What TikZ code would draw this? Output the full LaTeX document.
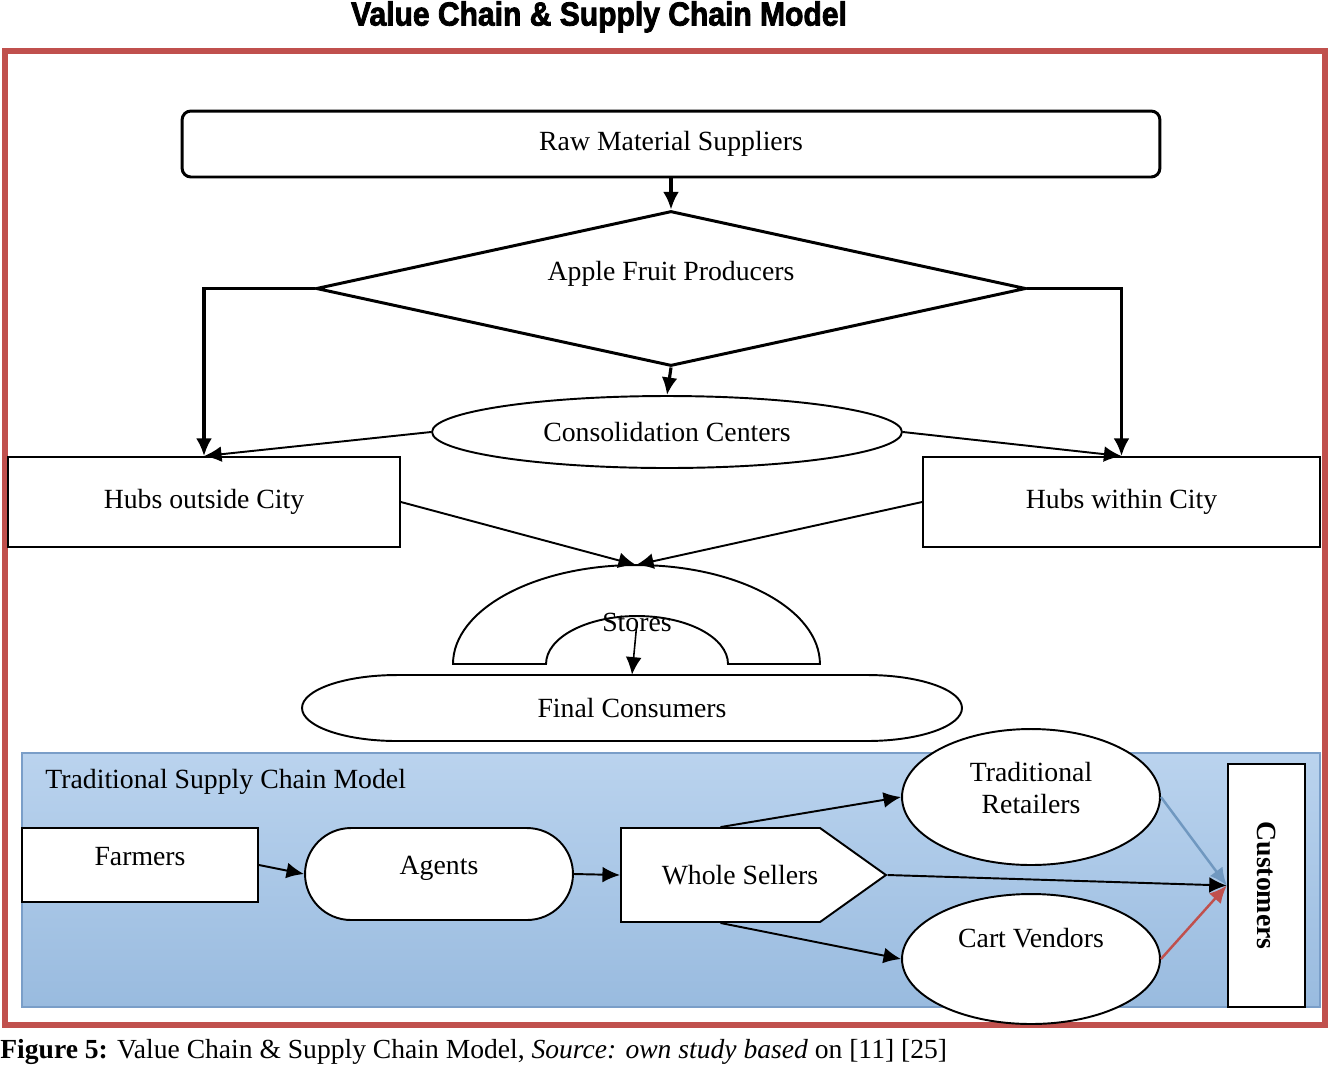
\documentclass[tikz,border=0pt]{standalone}
\usepackage{fontspec}
\setmainfont{Liberation Serif}
\newfontfamily\titlefont{Liberation Sans}[BoldFeatures={FakeBold=2.5}]
\usetikzlibrary{shapes.geometric,shapes.misc,shapes.symbols,arrows.meta}
\tikzset{>={Latex[length=10pt,width=9pt]}}
\definecolor{framered}{RGB}{192,80,77}
\definecolor{tscmtop}{RGB}{186,211,238}
\definecolor{tscmbottom}{RGB}{153,187,223}
\definecolor{tscmline}{RGB}{122,158,200}
\definecolor{linkblue}{RGB}{112,152,192}
\tikzset{
  box/.style={draw,fill=white,line width=1.1pt,inner sep=0pt},
  oval/.style={box,ellipse},
  link/.style={->,line width=1.1pt},
  biglink/.style={->,line width=1.8pt},
}

\begin{document}
\begin{tikzpicture}[x=0.02cm,y=-0.02cm,font=\fontsize{15.8}{18}\selectfont]
  \useasboundingbox (0,0) rectangle (1328,1066);

  % title and frame
  \node[xscale=0.9,anchor=north,inner sep=0pt] (title) at (599,1)
    {\titlefont\bfseries\fontsize{19}{21}\selectfont Value Chain \& Supply Chain Model};
  \draw[framered,line width=3.4pt]
    (5,51) rectangle (1325,1025);

  % value chain
  \node[box,rounded corners=5pt,line width=1.7pt,minimum width=19.56cm,minimum height=1.32cm]
    (raw) at (671,144) {Raw Material Suppliers};
  \node[box,diamond,line width=1.7pt,minimum width=14.2cm,minimum height=3.1cm,
    label={[yshift=0.3cm]center:Apple Fruit Producers}]
    (prod) at (671,288.5) {};
  \node[oval,minimum width=9.4cm,minimum height=1.44cm]
    (cons) at (667,432) {Consolidation Centers};
  \node[box,minimum width=7.84cm,minimum height=1.8cm]
    (hubout) at (204,502) {Hubs outside City};
  \node[box,minimum width=7.94cm,minimum height=1.8cm]
    (hubin) at (1121.5,502) {Hubs within City};

  % stores (arch)
  \coordinate (storetop) at (636,565);
  \draw[line width=1.1pt]
    (453,664) arc[start angle=180,end angle=0,x radius=3.67cm,y radius=1.98cm]
    -- (728,664) arc[start angle=0,end angle=180,x radius=1.82cm,y radius=0.96cm]
    -- cycle;
  \node (stores) at (637,622) {Stores};

  % final consumers
  \draw[line width=1.1pt]
    (397,675) -- (867,675) arc[start angle=90,end angle=-90,x radius=1.9cm,y radius=0.66cm]
    -- (397,741) arc[start angle=270,end angle=90,x radius=1.9cm,y radius=0.66cm]
    -- cycle;
  \node[minimum width=13.2cm,minimum height=1.32cm,inner sep=0pt]
    (final) at (632,708) {Final Consumers};

  % arrows
  \draw[biglink] (raw.south) -- (prod.north);
  \draw[biglink] (prod.west) -| (hubout.north);
  \draw[biglink] (prod.east) -| (hubin.north);
  \draw[biglink] (prod.south) -- (cons.north);
  \draw[link] (cons.west) -- (hubout.north);
  \draw[link] (cons.east) -- (hubin.north);
  \draw[link] (hubout.east) -- (storetop);
  \draw[link] (hubin.west) -- (storetop);
  \draw[->,line width=0.9pt] (stores.center) -- (final.north);

  % traditional supply chain
  \draw[tscmline,line width=1.5pt,top color=tscmtop,bottom color=tscmbottom]
    (22,753) rectangle (1320,1007);
  \node[anchor=west,inner sep=0pt] (tscm) at (45,782) {Traditional Supply Chain Model};
  \node[box,minimum width=4.72cm,minimum height=1.48cm,
    label={[yshift=0.16cm]center:Farmers}]
    (farm) at (140,865) {};
  \node[box,rounded rectangle,minimum width=5.36cm,minimum height=1.84cm,
    label={[yshift=0.12cm]center:Agents}]
    (agent) at (439,874) {};
  \node[box,signal,signal to=east,signal pointer angle=71,minimum width=5.3cm,minimum height=1.88cm,
    label={[xshift=0.39cm]center:Whole Sellers}]
    (ws) at (720.5,875) {};
  \node[oval,minimum width=5.16cm,minimum height=2.72cm,
    label={[yshift=0.18cm,align=center]center:Traditional\\Retailers}]
    (trad) at (1031,797) {};
  \node[oval,minimum width=5.16cm,minimum height=2.6cm,
    label={[yshift=0.42cm]center:Cart Vendors}]
    (cart) at (1031,959) {};
  \node[box,line width=1.4pt,minimum width=1.54cm,minimum height=4.86cm]
    (cust) at (1266.5,885.5) {\rotatebox{-90}{\bfseries Customers}};

  \draw[link] (farm.east) -- (agent.west);
  \draw[link] (agent.east) -- (ws.west);
  \draw[link] (ws.north) -- (trad.west);
  \draw[link] (ws.south) -- (cart.west);
  \draw[link] (ws.east) -- (cust.west);
  \draw[link,linkblue,line width=1.4pt] (trad.east) -- (cust.west);
  \draw[link,framered,line width=1.4pt] (cart.east) -- (cust.west);

  % caption
  \node[anchor=west,inner sep=0pt] (caption) at (0,1052)
    {\fontsize{15.7}{18}\selectfont\textbf{Figure 5:} Value Chain \& Supply Chain Model, \textit{Source: own study based} on [11] [25]};
\end{tikzpicture}
\end{document}
